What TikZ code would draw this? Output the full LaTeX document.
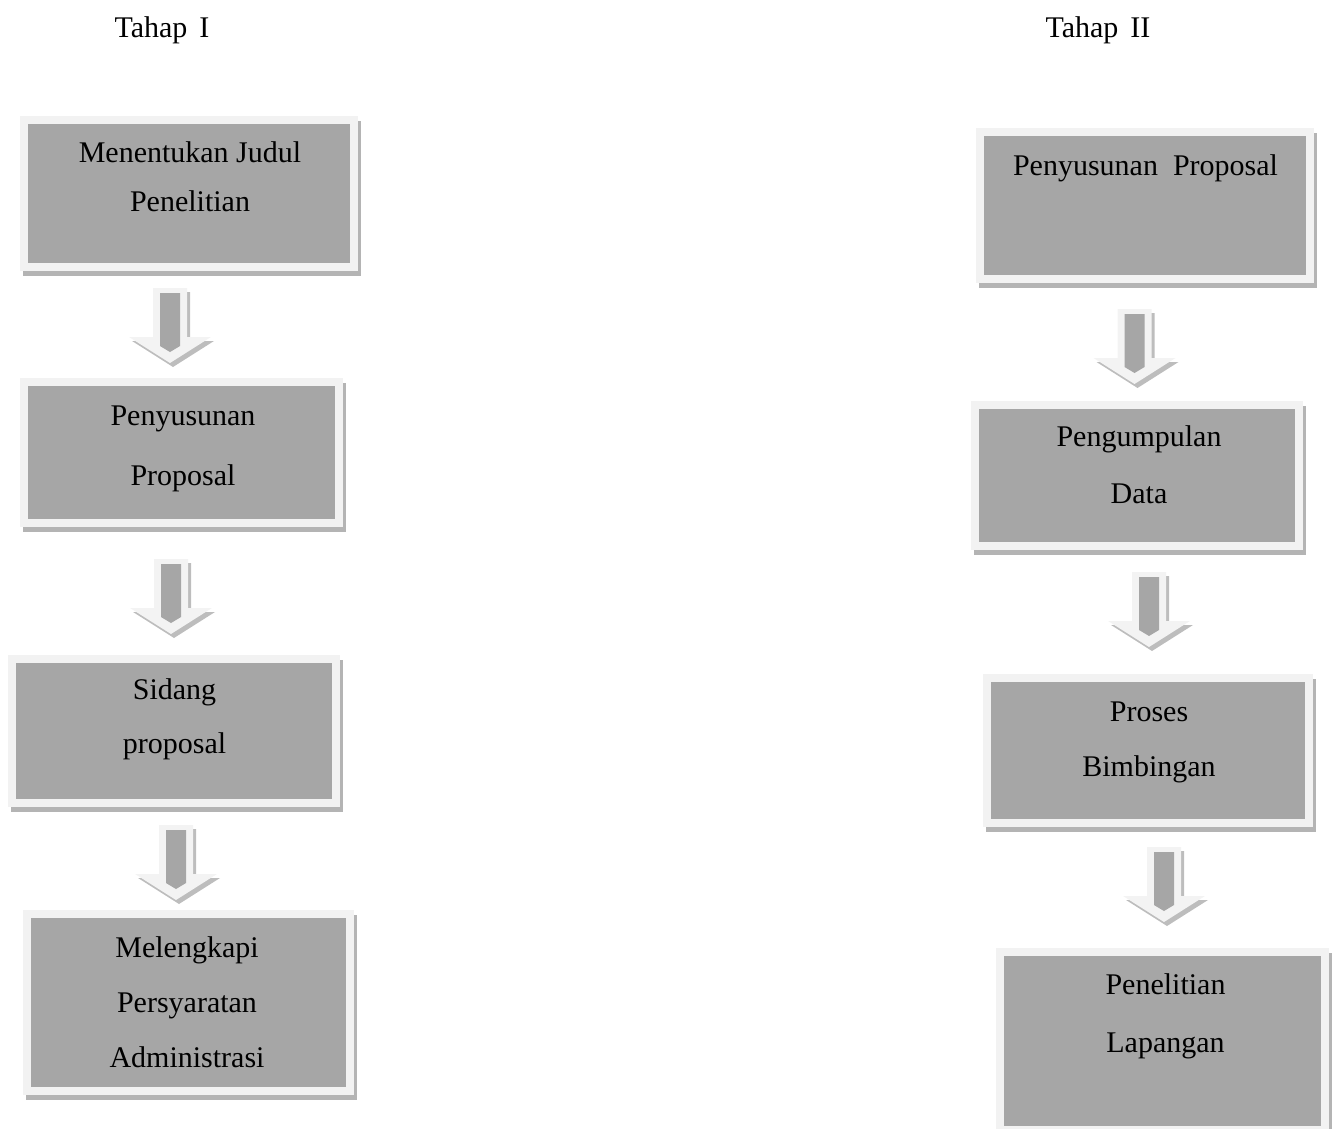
\documentclass[tikz,border=0pt]{standalone}
\usepackage{fontspec}
\setmainfont{Liberation Serif}
\usepackage{tikz}
\usetikzlibrary{shadows}
\definecolor{boxface}{HTML}{A6A6A6}
\definecolor{boxrim}{HTML}{F2F2F2}
\definecolor{boxshadow}{HTML}{B4B4B4}
\definecolor{arrowface}{HTML}{F3F3F3}
\definecolor{arrowshadow}{HTML}{BDBDBD}

\begin{document}
\begin{tikzpicture}[x=1pt, y=-1pt,
    stage/.style={draw=boxrim, line width=8pt, fill=boxface, inner sep=0pt,
        general shadow={fill=boxshadow, draw=boxshadow, line width=8pt, shadow xshift=3pt, shadow yshift=-5pt}},
    txt/.style={align=center, inner sep=0pt, font=\fontsize{30}{55}\selectfont},
    downarrow/.pic={
        \fill[arrowshadow] (-14,4) -- (20,4) -- (20,53) -- (44,53) -- (3,79) -- (-38,53) -- (-14,53) -- cycle;
        \fill[arrowface] (-17,0) -- (17,0) -- (17,49) -- (41,49) -- (0,75) -- (-41,49) -- (-17,49) -- cycle;
        \fill[boxface] (-10,5) -- (10,5) -- (10,58) -- (0,64) -- (-10,58) -- cycle;
    }
]
\clip (0,0) rectangle (1338,1129);

% Headings
\node[txt] (tahap1) at (162,30) {Tahap\hspace{0.4em}I};
\node[txt] (tahap2) at (1098,30) {Tahap\hspace{0.4em}II};

% Tahap I
\node[stage, minimum width=330pt, minimum height=147pt] (judul) at (189,193.5) {};
\node[stage, minimum width=315pt, minimum height=141pt] (susun1) at (181.5,452.5) {};
\node[stage, minimum width=324pt, minimum height=144pt] (sidang) at (174,731) {};
\node[stage, minimum width=323pt, minimum height=177pt] (syarat) at (188.5,1002.5) {};

\node[txt, font=\fontsize{30}{49}\selectfont] (judul-t) at (190,176.5) {Menentukan Judul\\Penelitian};
\node[txt, font=\fontsize{30}{60}\selectfont] (susun1-t) at (183,449) {Penyusunan\\Proposal};
\node[txt, font=\fontsize{30}{54}\selectfont] (sidang-t) at (174.5,719.5) {Sidang\\proposal};
\node[txt] (syarat-t) at (187,1002.5) {Melengkapi\\Persyaratan\\Administrasi};

\pic (panah1) at (170,288) {downarrow};
\pic (panah2) at (171,559) {downarrow};
\pic (panah3) at (176,825) {downarrow};

% Tahap II
\node[stage, minimum width=330pt, minimum height=147pt] (susun2) at (1145,205.5) {};
\node[stage, minimum width=324pt, minimum height=141pt] (data) at (1137,475.5) {};
\node[stage, minimum width=322pt, minimum height=145pt] (bimbing) at (1148,750.5) {};
\node[stage, minimum width=325pt, minimum height=178pt] (lapangan) at (1162.5,1041) {};

\node[txt] (susun2-t) at (1145.5,168) {Penyusunan\hspace{0.5em}Proposal};
\node[txt, font=\fontsize{30}{57}\selectfont] (data-t) at (1139,465) {Pengumpulan\\Data};
\node[txt, font=\fontsize{30}{55}\selectfont] (bimbing-t) at (1149,742.5) {Proses\\Bimbingan};
\node[txt, font=\fontsize{30}{58}\selectfont] (lapangan-t) at (1165.5,1016.5) {Penelitian\\Lapangan};

\pic (panah4) at (1134.5,309) {downarrow};
\pic (panah5) at (1149,572) {downarrow};
\pic (panah6) at (1164,847) {downarrow};

\end{tikzpicture}
\end{document}
